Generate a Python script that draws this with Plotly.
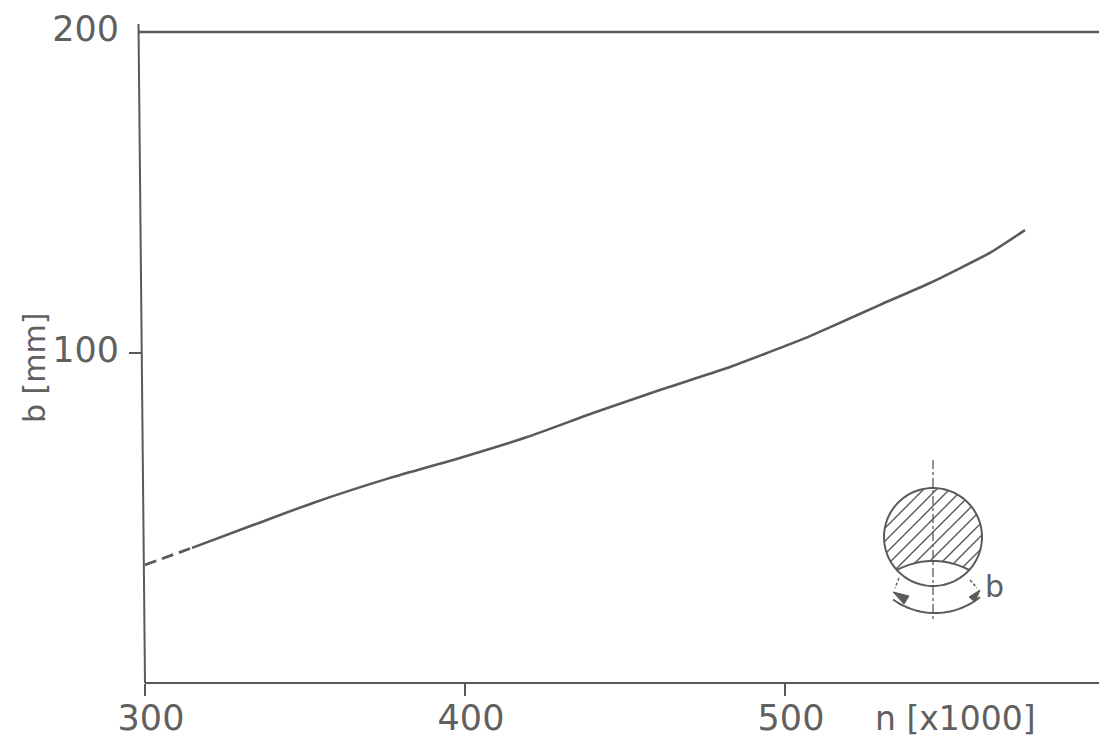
import numpy as np
import plotly.graph_objects as go

# Data
n_dashed = [300, 307, 314.7]
b_dashed = [34.0, 36.5, 39.3]
n_solid = [314.7, 333.8, 352.5, 376.6, 398.4, 419.4, 440, 460.9, 481.9, 504.7, 514, 529.7, 545.3, 564, 575]
b_solid = [39.3, 46.4, 53.3, 61.1, 67.3, 73.8, 81.3, 88.5, 95.3, 104, 108, 115, 121.8, 131.2, 138.3]
x_ticks = [300, 400, 500]
x_labels = ["300", "400", "500"]
y_ticks = [100, 200]
y_labels = ["100", "200"]

W, H = 1099, 745
L, R, T, B = 141, 1099, 32, 683
INK = "#5a5a5a"
FONT = "DejaVu Sans"


def px(x):
    return (x - L) / (R - L)


def py(y):
    return (B - y) / (B - T)


def line(x0, y0, x1, y1, width=1.6, color=INK, dash="solid"):
    return dict(type="line", xref="paper", yref="paper", x0=px(x0), y0=py(y0), x1=px(x1), y1=py(y1),
                line=dict(color=color, width=width, dash=dash), layer="above")


def poly(points, closed=False, width=1.8, fill=None):
    d = "M " + " L ".join(f"{px(a):.5f} {py(b):.5f}" for a, b in points)
    if closed:
        d += " Z"
    s = dict(type="path", xref="paper", yref="paper", path=d, line=dict(color=INK, width=width), layer="above")
    if fill:
        s["fillcolor"] = fill
    return s


shapes = []
# Frame of the chart
shapes.append(line(138.5, 24, 145, B, width=2))
shapes.append(line(139, T, R, T, width=2.6))
shapes.append(line(145, B, R, B, width=2.2))
shapes.append(line(129, 353, 141, 353, width=2))

# Inset: hatched circle section
cx, cy, r = 933, 537, 49
th = np.linspace(0, 2 * np.pi, 90)
shapes.append(poly(list(zip(cx + r * np.cos(th), cy + r * np.sin(th))), closed=True, width=2))
ax, ay, ar = 933, 638, 77
xs = np.linspace(896, 970, 30)
shapes.append(poly(list(zip(xs, ay - np.sqrt(ar**2 - (xs - ax)**2))), width=2))
for c in np.arange(cx + cy - 70, cx + cy + 70, 13):
    t = np.linspace(870, 1000, 1301)
    yy = c - t
    arc_y = ay - np.sqrt(np.maximum(ar**2 - (t - ax)**2, 0))
    inside = ((t - cx)**2 + (yy - cy)**2 <= r**2) & (yy <= arc_y)
    if inside.sum() > 3:
        i = np.where(inside)[0]
        shapes.append(line(t[i[0]], yy[i[0]], t[i[-1]], yy[i[-1]], width=1.4))
# Centre line
shapes.append(line(933, 460, 933, 620, width=1.3, dash="dashdot"))
# Dashed limits and arrow
shapes.append(line(899, 578, 895, 588, width=1.4, dash="3px,2px"))
shapes.append(line(970, 580, 977, 588, width=1.4, dash="3px,2px"))
bx, by, br = 935, 541, 72
ts = np.linspace(893, 980, 30)
shapes.append(poly(list(zip(ts, by + np.sqrt(br**2 - (ts - bx)**2))), width=2))
shapes.append(poly([(893, 592), (909, 596), (904, 604)], closed=True, fill=INK, width=1))
shapes.append(poly([(980, 590), (969, 597), (975, 602)], closed=True, fill=INK, width=1))

fig = go.Figure()
fig.add_trace(go.Scatter(x=n_dashed, y=b_dashed, mode="lines", showlegend=False,
                         line=dict(color=INK, width=2.8, dash="12px,6px")))
fig.add_trace(go.Scatter(x=n_solid, y=b_solid, mode="lines", showlegend=False,
                         line=dict(color=INK, width=2.6, shape="spline", smoothing=0.5)))

tickfont = dict(family=FONT, size=35, color="#606060")
fig.update_layout(
    width=W, height=H, autosize=False,
    margin=dict(l=L, r=W - R, t=T, b=H - B, pad=0, autoexpand=False),
    plot_bgcolor="white", paper_bgcolor="white", showlegend=False,
    shapes=shapes,
    xaxis=dict(range=[300 - 4 / 3.2, 300 + (R - 145) / 3.2], showgrid=False, zeroline=False, showline=False,
               automargin=False,
               tickmode="array", tickvals=x_ticks, ticktext=x_labels, ticks="outside", ticklen=12,
               tickwidth=2, tickcolor=INK, tickfont=tickfont, ticklabelshift=6, ticklabelstandoff=-8),
    yaxis=dict(range=[100 - (B - 353) / 3.21, 200], showgrid=False, zeroline=False, showline=False,
               automargin=False,
               tickmode="array", tickvals=y_ticks, ticktext=y_labels, ticks="", tickfont=tickfont,
               ticklabelstandoff=21, ticklabelshift=-3),
    annotations=[
        dict(text="n [x1000]", xref="paper", yref="paper", x=px(955), y=py(718), showarrow=False,
             font=dict(family=FONT, size=33, color="#606060"), xanchor="center", yanchor="middle"),
        dict(text="b [mm]", xref="paper", yref="paper", x=px(34), y=py(368), showarrow=False, textangle=-90,
             font=dict(family=FONT, size=30, color="#606060"), xanchor="center", yanchor="middle"),
        dict(text="b", xref="paper", yref="paper", x=px(994), y=py(586), showarrow=False,
             font=dict(family=FONT, size=30, color="#606060"), xanchor="center", yanchor="middle"),
    ],
)
fig.write_html("out.html", config=dict(displayModeBar=False), post_script="document.body.style.margin='0';")
